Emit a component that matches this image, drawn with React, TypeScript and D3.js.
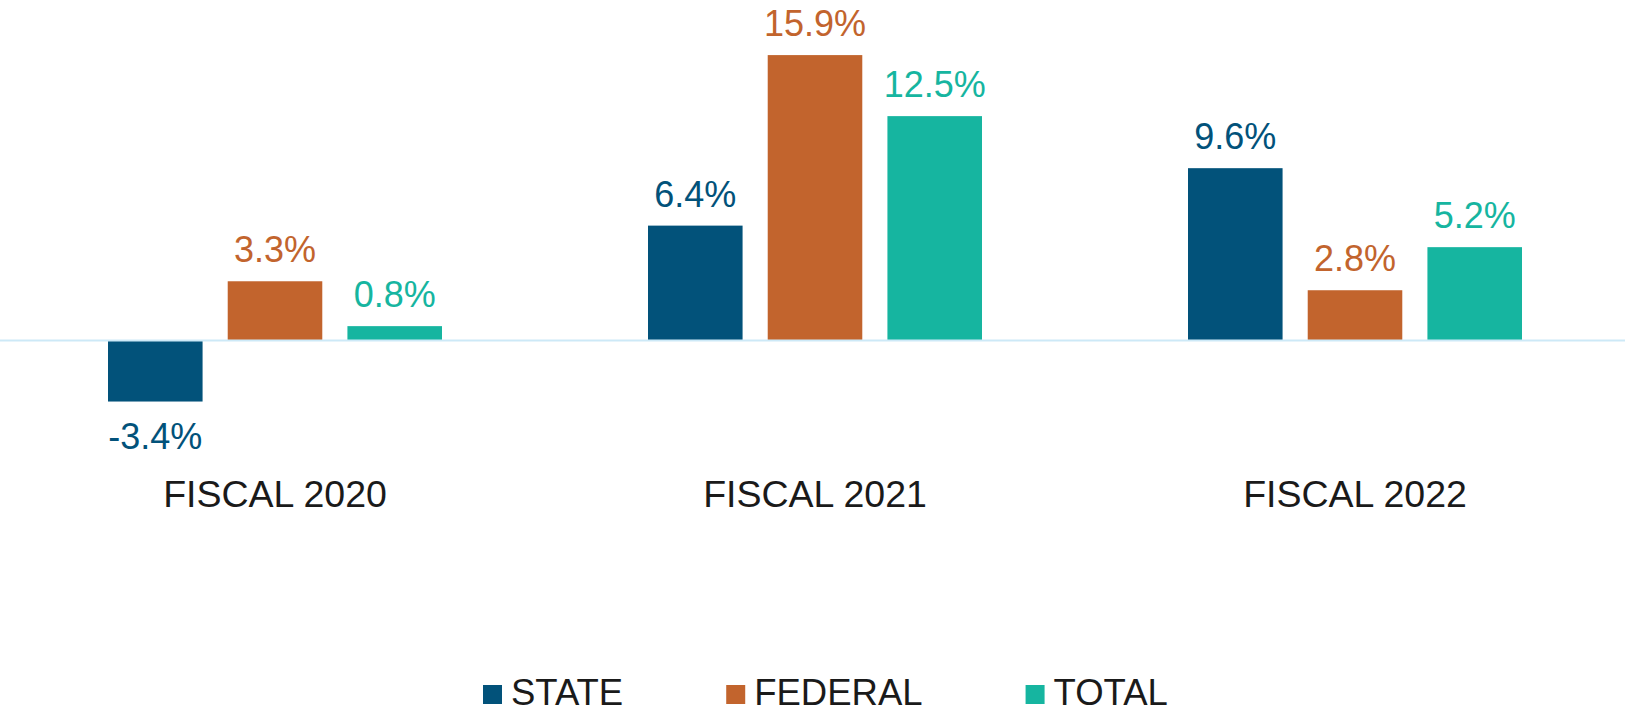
import React, { useEffect, useRef } from 'react';
import * as d3 from 'd3';

const categories = ['FISCAL 2020', 'FISCAL 2021', 'FISCAL 2022'];
const seriesNames = ['STATE', 'FEDERAL', 'TOTAL'];
const stateValues = [-3.4, 6.4, 9.6];
const federalValues = [3.3, 15.9, 2.8];
const totalValues = [0.8, 12.5, 5.2];
const colors = ['#02527A', '#C2642D', '#16B5A0'];

const W = 1629;
const H = 711;
const FONT = '"Liberation Sans", Arial, Helvetica, sans-serif';

function App() {
  const ref = useRef<SVGSVGElement>(null);

  useEffect(() => {
    const svg = d3.select(ref.current);
    svg.selectAll('*').remove();

    const values = [stateValues, federalValues, totalValues];
    const rows = categories.map((c, i) => ({
      cat: c,
      bars: seriesNames.map((s, j) => ({ name: s, value: values[j][i], color: colors[j] })),
    }));

    const x0 = d3.scaleBand().domain(categories).range([5, 1625]).padding(0);
    const groupW = 334;
    const x1 = d3.scaleBand().domain(seriesNames).range([0, groupW]).paddingInner(0.21);
    const y = d3.scaleLinear().domain([-5, 20]).range([430.25, -18.5]);

    const groups = svg.selectAll('g.grp')
      .data(rows)
      .enter().append('g')
      .attr('class', 'grp')
      .attr('transform', d => `translate(${x0(d.cat)! + (x0.bandwidth() - groupW) / 2},0)`);

    groups.selectAll('rect')
      .data(d => d.bars)
      .enter().append('rect')
      .attr('x', d => x1(d.name)!)
      .attr('y', d => y(Math.max(0, d.value)))
      .attr('width', x1.bandwidth())
      .attr('height', d => Math.abs(y(d.value) - y(0)))
      .attr('fill', d => d.color);

    groups.selectAll('text.val')
      .data(d => d.bars)
      .enter().append('text')
      .attr('class', 'val')
      .attr('x', d => x1(d.name)! + x1.bandwidth() / 2)
      .attr('y', d => d.value >= 0 ? y(d.value) - 19 : y(d.value) + 47)
      .attr('text-anchor', 'middle')
      .attr('font-family', FONT)
      .attr('font-size', 36)
      .attr('fill', d => d.color)
      .text(d => d.value.toFixed(1) + '%');

    // zero line
    svg.append('line')
      .attr('x1', 0).attr('x2', 1625)
      .attr('y1', y(0)).attr('y2', y(0))
      .attr('stroke', '#CDE9F7')
      .attr('stroke-width', 2);

    // category labels
    svg.selectAll('text.cat')
      .data(categories)
      .enter().append('text')
      .attr('class', 'cat')
      .attr('x', d => x0(d)! + x0.bandwidth() / 2)
      .attr('y', 507)
      .attr('text-anchor', 'middle')
      .attr('font-family', FONT)
      .attr('font-size', 37.5)
      .attr('fill', '#1a1a1a')
      .text(d => d);

    // legend
    const legend = svg.append('g').attr('transform', 'translate(483,0)');
    let offset = 0;
    seriesNames.forEach((s, i) => {
      const item = legend.append('g').attr('transform', `translate(${offset},0)`);
      item.append('rect')
        .attr('x', 0).attr('y', 685)
        .attr('width', 19).attr('height', 19)
        .attr('fill', colors[i]);
      const t = item.append('text')
        .attr('x', 28).attr('y', 705)
        .attr('font-family', FONT)
        .attr('font-size', 36.5)
        .attr('fill', '#1a1a1a')
        .text(s);
      const tw = (t.node() as SVGTextElement).getComputedTextLength();
      offset += 28 + tw + 103;
    });
  }, []);

  return (
    <svg
      ref={ref}
      width={W}
      height={H}
      style={{ position: 'absolute', top: 0, left: 0, background: '#fff', display: 'block' }}
    />
  );
}

export default App;
